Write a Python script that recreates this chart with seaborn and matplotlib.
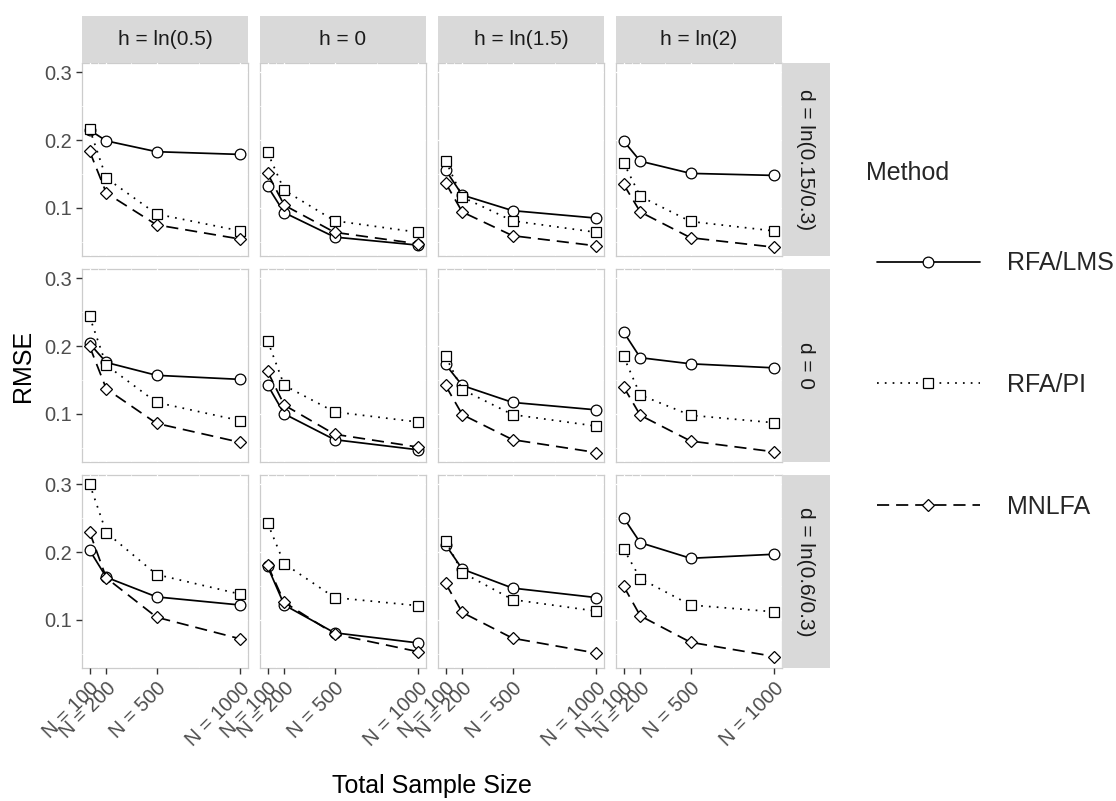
import matplotlib
matplotlib.use("Agg")
import matplotlib.pyplot as plt
from matplotlib.patches import Rectangle
from matplotlib.lines import Line2D
import numpy as np
import pandas as pd
import seaborn as sns

# ---- data -------------------------------------------------------------
sample_sizes = [100, 200, 500, 1000]
n_labels = ["N = 100", "N = 200", "N = 500", "N = 1000"]
h_levels = ["h = ln(0.5)", "h = 0", "h = ln(1.5)", "h = ln(2)"]
d_levels = ["d = ln(0.15/0.3)", "d = 0", "d = ln(0.6/0.3)"]
methods = ["RFA/LMS", "RFA/PI", "MNLFA"]

# RMSE by [d level][h level][sample size]
rmse_lms = [
    [[0.215, 0.199, 0.183, 0.179], [0.132, 0.093, 0.057, 0.045],
     [0.156, 0.119, 0.096, 0.085], [0.199, 0.169, 0.151, 0.148]],
    [[0.204, 0.176, 0.157, 0.151], [0.143, 0.100, 0.062, 0.047],
     [0.173, 0.142, 0.117, 0.106], [0.221, 0.183, 0.174, 0.168]],
    [[0.203, 0.163, 0.134, 0.122], [0.179, 0.122, 0.081, 0.066],
     [0.211, 0.175, 0.147, 0.133], [0.251, 0.214, 0.191, 0.197]],
]
rmse_pi = [
    [[0.217, 0.144, 0.091, 0.066], [0.182, 0.126, 0.081, 0.064],
     [0.170, 0.116, 0.081, 0.064], [0.167, 0.117, 0.080, 0.066]],
    [[0.244, 0.172, 0.117, 0.090], [0.208, 0.142, 0.103, 0.088],
     [0.185, 0.136, 0.099, 0.082], [0.185, 0.128, 0.098, 0.087]],
    [[0.301, 0.229, 0.167, 0.138], [0.243, 0.183, 0.133, 0.121],
     [0.217, 0.170, 0.130, 0.113], [0.205, 0.161, 0.122, 0.112]],
]
rmse_mnlfa = [
    [[0.184, 0.122, 0.075, 0.054], [0.151, 0.104, 0.064, 0.047],
     [0.137, 0.094, 0.059, 0.044], [0.135, 0.094, 0.056, 0.042]],
    [[0.200, 0.137, 0.086, 0.058], [0.163, 0.113, 0.070, 0.051],
     [0.142, 0.099, 0.062, 0.043], [0.140, 0.098, 0.060, 0.044]],
    [[0.230, 0.162, 0.104, 0.072], [0.181, 0.126, 0.079, 0.053],
     [0.154, 0.111, 0.073, 0.051], [0.150, 0.106, 0.067, 0.046]],
]

# long-format table
rows = []
for m, arr in zip(methods, [rmse_lms, rmse_pi, rmse_mnlfa]):
    for i, d in enumerate(d_levels):
        for j, h in enumerate(h_levels):
            for n, v in zip(sample_sizes, arr[i][j]):
                rows.append(dict(Method=m, d=d, h=h, N=n, RMSE=v))
df = pd.DataFrame(rows)

# ---- style ------------------------------------------------------------
sns.set_theme(style="white")
plt.rcParams["font.family"] = ["Liberation Sans", "DejaVu Sans"]

method_style = {
    "RFA/LMS": dict(marker="o", markersize=7.7, linestyle="-"),
    "RFA/PI": dict(marker="s", markersize=7.0, linestyle=(0, (1, 3.5))),
    "MNLFA": dict(marker="D", markersize=6.6, linestyle=(0, (7, 4))),
}
common = dict(color="black", linewidth=1.25, markerfacecolor="white",
              markeredgecolor="black", markeredgewidth=0.9)

W, H = 1116, 801
fig = plt.figure(figsize=(W / 100, H / 100), dpi=100)
pl, pr, pt, pb = 82, 782, 63, 668
pw, ph = 166, 193
axes = fig.subplots(
    3, 4, sharex=True, sharey=True,
    gridspec_kw=dict(left=pl / W, right=pr / W, top=1 - pt / H, bottom=1 - pb / H,
                     wspace=12 / pw, hspace=13 / ph),
)

lo, hi = df["RMSE"].min(), df["RMSE"].max()
pad = 0.05 * (hi - lo)
xpad = 0.05 * (max(sample_sizes) - min(sample_sizes))

strip_bg = "#D9D9D9"
strip_fc = "#1A1A1A"
tick_col = "#4D4D4D"

for i, d in enumerate(d_levels):
    for j, h in enumerate(h_levels):
        ax = axes[i, j]
        sub = df[(df["d"] == d) & (df["h"] == h)]
        for m in methods:
            sns.lineplot(data=sub[sub["Method"] == m], x="N", y="RMSE", ax=ax,
                         errorbar=None, legend=False, **common, **method_style[m])
        ax.set_xlim(min(sample_sizes) - xpad, max(sample_sizes) + xpad)
        ax.set_ylim(lo - pad, hi + pad)
        ax.set_xticks(sample_sizes)
        ax.set_xticklabels(n_labels)
        ax.set_xticks([150, 350, 750], minor=True)
        ax.set_yticks([0.1, 0.2, 0.3])
        ax.set_yticklabels(["0.1", "0.2", "0.3"])
        ax.set_yticks([0.05, 0.15, 0.25], minor=True)
        ax.set_xlabel("")
        ax.set_ylabel("")
        ax.set_facecolor("white")
        for s in ax.spines.values():
            s.set_color("#CCCCCC")
            s.set_linewidth(0.9)
            s.set_zorder(0.3)
        ax.set_axisbelow(True)
        ax.grid(True, which="major", color="white", linewidth=1.0)
        ax.grid(True, which="minor", color="white", linewidth=0.6)
        ax.tick_params(axis="both", which="major", length=4.5, width=1.0,
                       color="#333333", labelcolor=tick_col, labelsize=14.4)
        ax.tick_params(axis="both", which="minor", length=0)
        ax.tick_params(axis="y", pad=3, left=(j == 0), labelleft=(j == 0))
        ax.tick_params(axis="x", pad=3, bottom=(i == 2), labelbottom=(i == 2))
        if i == 2:
            for lab in ax.get_xticklabels():
                lab.set_rotation(45)
                lab.set_ha("right")
                lab.set_va("top")
                lab.set_rotation_mode("anchor")
        # facet strips
        if i == 0:
            sh = 47 / ph
            ax.add_patch(Rectangle((0, 1), 1, sh, transform=ax.transAxes,
                                   facecolor=strip_bg, edgecolor="none", clip_on=False))
            ax.text(0.5, 1 + sh / 2, h, transform=ax.transAxes, ha="center",
                    va="center", fontsize=15, color=strip_fc)
        if j == 3:
            sw = 48 / pw
            ax.add_patch(Rectangle((1, 0), sw, 1, transform=ax.transAxes,
                                   facecolor=strip_bg, edgecolor="none", clip_on=False))
            ax.text(1 + sw / 2, 0.5, d, transform=ax.transAxes, ha="center",
                    va="center", rotation=-90, fontsize=15, color=strip_fc)

# axis titles
fig.text((pl + pr) / 2 / W, 1 - 786 / H, "Total Sample Size", ha="center",
         va="center", fontsize=18, color="black")
fig.text(23 / W, 1 - (pt + pb) / 2 / H, "RMSE", ha="center", va="center",
         rotation=90, fontsize=18, color="black")

# legend
handles = [Line2D([], [], **common, **method_style[m]) for m in methods]
fig.text(866 / W, 1 - 173 / H, "Method", ha="left", va="center", fontsize=18)
fig.legend(handles, methods, loc="center left", bbox_to_anchor=(877 / W, 1 - 385 / H),
           frameon=False, fontsize=18, handlelength=4.1, handletextpad=1.1,
           labelspacing=3.9, borderpad=0, borderaxespad=0, numpoints=1)

fig.savefig("out.png", dpi=100, facecolor="white")
